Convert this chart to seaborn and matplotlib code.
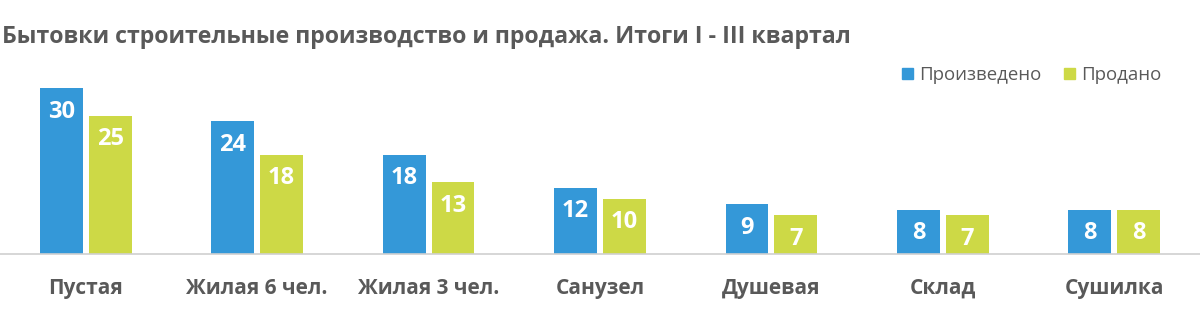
import pandas as pd
import seaborn as sns
import matplotlib.pyplot as plt

# data
categories = ["Пустая", "Жилая 6 чел.", "Жилая 3 чел.", "Санузел", "Душевая", "Склад", "Сушилка"]
produced = [30, 24, 18, 12, 9, 8, 8]
sold = [25, 18, 13, 10, 7, 7, 8]
series_names = ["Произведено", "Продано"]
title = "Бытовки строительные производство и продажа. Итоги I - III квартал"

BLUE = "#3498d8"
GREEN = "#cdd946"
GRAY = "#595959"

sns.set_theme(style="white")
plt.rcParams["font.family"] = ["Open Sans", "DejaVu Sans"]

df = pd.DataFrame({
    "cat": categories * 2,
    "value": produced + sold,
    "series": [series_names[0]] * len(categories) + [series_names[1]] * len(categories),
})

fig = plt.figure(figsize=(12, 3.25), dpi=100)
ax = fig.add_axes([0.0, 0.218, 1.0, 0.511])

sns.barplot(data=df, x="cat", y="value", hue="series", order=categories,
            hue_order=series_names, palette=[BLUE, GREEN], width=0.57, gap=0.12,
            linewidth=0, saturation=1, legend=False, ax=ax)

ax.set_ylim(0, 30)
ax.set_xlim(-0.5, len(categories) - 0.5)
for container in ax.containers:
    for bar in container:
        h = bar.get_height()
        bar.set_clip_on(False)
        ax.annotate(f"{h:g}", (bar.get_x() + bar.get_width() / 2, h),
                    xytext=(0, -17), textcoords="offset points",
                    ha="center", va="center", color="white",
                    fontsize=17, fontweight="bold", annotation_clip=False)

for s in ["top", "right", "left"]:
    ax.spines[s].set_visible(False)
ax.spines["bottom"].set_color("#d0d0d0")
ax.spines["bottom"].set_linewidth(1.2)
ax.set_yticks([])
ax.set_xlabel("")
ax.set_ylabel("")
ax.tick_params(axis="x", length=0, pad=17)
ax.set_xticks(range(len(categories)))
ax.set_xticklabels(categories, fontsize=15, fontweight="bold", color=GRAY)

fig.text(0.002, 0.885, title, fontsize=16.7, fontweight="bold", color=GRAY,
         ha="left", va="center")

handles = [plt.Rectangle((0, 0), 1, 1, color=c) for c in (BLUE, GREEN)]
fig.legend(handles, series_names, loc="center left", bbox_to_anchor=(902 / 1200, 1 - 75 / 325),
           ncol=2, frameon=False, fontsize=13.4, labelcolor=GRAY, borderpad=0, borderaxespad=0,
           handlelength=0.6, handleheight=0.6, handletextpad=0.32, columnspacing=1.2)

fig.savefig("out.png", dpi=100)
